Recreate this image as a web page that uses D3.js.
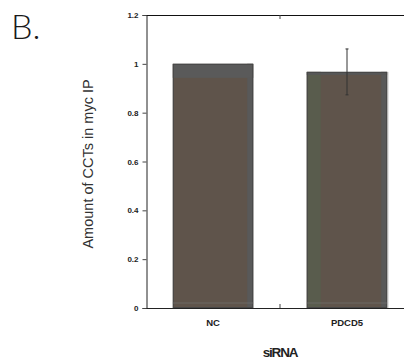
<!DOCTYPE html>
<html><head><meta charset="utf-8">
<script src="https://cdn.jsdelivr.net/npm/d3@7"></script>
<style>body{margin:0;background:#fff}svg{display:block}</style>
</head><body>
<svg id="c" width="404" height="360"></svg>
<script>
const categories = ["NC", "PDCD5"];
const values = [1.0, 0.967];
const errors = [0, 0.094];
const yTicks = [0, 0.2, 0.4, 0.6, 0.8, 1, 1.2];
const yTickLabels = ["0", "0.2", "0.4", "0.6", "0.8", "1", "1.2"];

(function(){
const svg = d3.select("#c");
const pl = 146, pt = 15, pb = 308, pr = 414;
const x = d3.scaleBand().domain(categories).range([pl, pr]).paddingInner(0.4).paddingOuter(0.2);
const y = d3.scaleLinear().domain([0, 1.2]).range([pb, pt]);
const FF = "Liberation Sans, Arial, sans-serif";

svg.append("text").attr("x", 11).attr("y", 39).attr("font-family", "Lato, Liberation Sans, sans-serif")
  .attr("font-weight", 300).attr("font-size", 34).attr("fill", "#1a1a1a").text("B.");

const g = svg.append("g");
categories.forEach((c, i) => {
  const x0 = x(c), w = x.bandwidth(), yv = y(values[i]);
  g.append("rect").attr("x", x0).attr("y", yv).attr("width", w).attr("height", pb - yv).attr("fill", "#5f544b");
  g.append("rect").attr("x", x0 + w - 6).attr("y", yv).attr("width", 6).attr("height", pb - yv).attr("fill", "#595959");
  if (i === 0) {
    g.append("rect").attr("x", x0).attr("y", yv).attr("width", w).attr("height", 14).attr("fill", "#5a5a5a");
  } else {
    g.append("rect").attr("x", x0).attr("y", yv).attr("width", 14).attr("height", pb - yv).attr("fill", "#595c4d");
    g.append("rect").attr("x", x0).attr("y", yv).attr("width", w).attr("height", 3).attr("fill", "#575757");
  }
  g.append("rect").attr("x", x0 + 0.5).attr("y", yv + 0.5).attr("width", w - 1).attr("height", pb - yv - 1)
    .attr("fill", "none").attr("stroke", "#474747").attr("stroke-width", 1);
  g.append("line").attr("x1", x0).attr("x2", x0 + w).attr("y1", pb - 5).attr("y2", pb - 5)
    .attr("stroke", "#777").attr("stroke-width", 0.6);
  if (errors[i] > 0) {
    const cx = x0 + w / 2;
    g.append("line").attr("x1", cx).attr("x2", cx).attr("y1", y(values[i] + errors[i])).attr("y2", y(values[i] - errors[i]))
      .attr("stroke", "#333").attr("stroke-width", 1);
    [values[i] + errors[i], values[i] - errors[i]].forEach(v => {
      g.append("line").attr("x1", cx - 1.5).attr("x2", cx + 1.5).attr("y1", y(v)).attr("y2", y(v)).attr("stroke", "#333");
    });
  }
});

svg.append("line").attr("x1", pl).attr("x2", 404).attr("y1", pt + 0.5).attr("y2", pt + 0.5).attr("stroke", "#111");
svg.append("line").attr("x1", pl).attr("x2", 404).attr("y1", pb + 0.5).attr("y2", pb + 0.5).attr("stroke", "#222");
svg.append("line").attr("x1", 388).attr("x2", 388).attr("y1", y(values[1])).attr("y2", pb).attr("stroke", "#bbb").attr("stroke-width", 0.8);
const midX = (x(categories[0]) + x.bandwidth() + x(categories[1])) / 2;
svg.append("line").attr("x1", midX).attr("x2", midX).attr("y1", pt).attr("y2", pt + 4).attr("stroke", "#444");
svg.append("line").attr("x1", midX).attr("x2", midX).attr("y1", pb - 4).attr("y2", pb).attr("stroke", "#444");

const yAxis = d3.axisLeft(y).tickValues(yTicks).tickFormat((d, i) => yTickLabels[i]).tickSize(4).tickPadding(4);
const ya = svg.append("g").attr("transform", `translate(${pl + 0.5},0)`).call(yAxis);
ya.select(".domain").attr("stroke", "#222");
ya.selectAll(".tick line").attr("stroke", "#444");
ya.selectAll("text").attr("font-family", FF).attr("font-size", 8).attr("font-weight", "bold").attr("fill", "#222");

const xAxis = d3.axisBottom(x).tickSize(0).tickPadding(11);
const xa = svg.append("g").attr("transform", `translate(0,${pb})`).call(xAxis);
xa.select(".domain").remove();
xa.selectAll("text").attr("font-family", FF).attr("font-size", 9.5).attr("font-weight", "bold").attr("fill", "#222");

svg.append("text").attr("x", midX).attr("y", 357).attr("text-anchor", "middle")
  .attr("font-family", FF).attr("font-size", 13.5).attr("font-weight", "bold")
  .attr("letter-spacing", -1.2).attr("fill", "#222").text("siRNA");
svg.append("text").attr("transform", `translate(93,${(y(0.25) + y(0.93)) / 2}) rotate(-90)`).attr("text-anchor", "middle")
  .attr("font-family", FF).attr("font-size", 14.5).attr("fill", "#333")
  .text("Amount of CCTs in myc IP");
})();
</script>
</body></html>
